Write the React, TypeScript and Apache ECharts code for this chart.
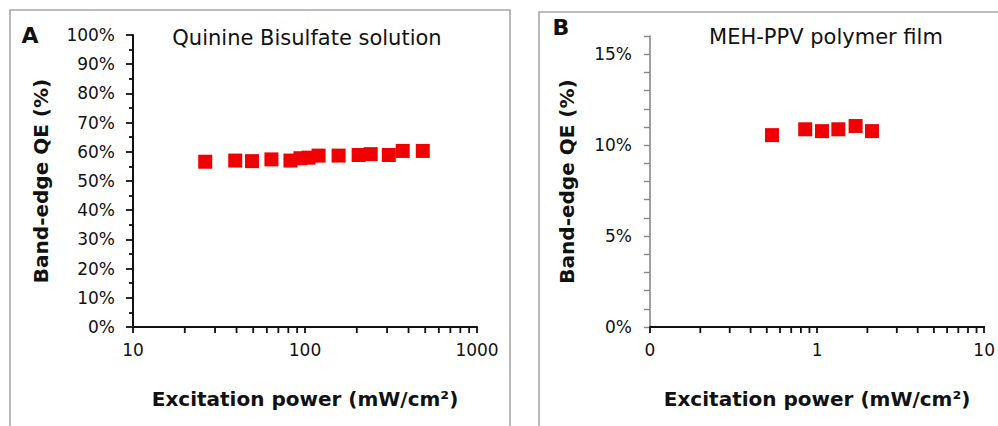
import React, { useEffect, useRef } from "react";
import * as echarts from "echarts";

// Panel A: Quinine Bisulfate solution
const powerA = [26.3, 39.3, 49.2, 63.8, 82.3, 94.1, 104.8, 119.9, 156.8, 205, 241, 307, 370, 484];
const qeA = [56.6, 57.0, 56.8, 57.4, 57.0, 57.8, 58.0, 58.7, 58.7, 58.9, 59.2, 58.9, 60.3, 60.3];
// Panel B: MEH-PPV polymer film
const powerB = [0.537, 0.849, 1.07, 1.34, 1.7, 2.13];
const qeB = [10.55, 10.87, 10.77, 10.87, 11.05, 10.77];

const minorTicksA = [20, 30, 40, 50, 60, 70, 80, 90, 200, 300, 400, 500, 600, 700, 800, 900];
const minorTicksB = [0.2, 0.3, 0.4, 0.5, 0.6, 0.7, 0.8, 0.9, 2, 3, 4, 5, 6, 7, 8, 9];
const xTickLabelsA = ["10", "100", "1000"];
const xTickLabelsB = ["0", "1", "10"];

const titleA = "Quinine Bisulfate solution";
const titleB = "MEH-PPV polymer film";
const xName = "Excitation power (mW/cm²)";
const yName = "Band-edge QE (%)";

const FONT = "'DejaVu Sans', 'Liberation Sans', Arial, sans-serif";

function minorTickSeries(values: number[], axisIndex: number) {
  return {
    type: "custom",
    xAxisIndex: axisIndex,
    yAxisIndex: axisIndex,
    silent: true,
    clip: false,
    z: 5,
    data: values.map((v) => [v, 0]),
    renderItem: (_params: any, api: any) => {
      const p = api.coord([api.value(0), api.value(1)]);
      return {
        type: "line",
        shape: { x1: p[0], y1: p[1], x2: p[0], y2: p[1] + 6 },
        style: { stroke: "#111", lineWidth: 1.8 },
      };
    },
  };
}

export default function App() {
  const ref = useRef<HTMLDivElement>(null);

  useEffect(() => {
    document.body.style.margin = "0";
    if (!ref.current) return;
    const chart = echarts.init(ref.current, undefined, { renderer: "svg" });

    const tickLabel = { color: "#111", fontSize: 17, fontFamily: FONT };
    const nameStyle = { color: "#111", fontSize: 20, fontWeight: "bold" as const, fontFamily: FONT };

    const option: any = {
      animation: false,
      backgroundColor: "#fff",
      graphic: [
        { type: "rect", shape: { x: 10, y: 10, width: 500, height: 440 }, style: { fill: "none", stroke: "#a8a8a8", lineWidth: 1.6 }, silent: true },
        { type: "rect", shape: { x: 539, y: 12, width: 480, height: 440 }, style: { fill: "none", stroke: "#a8a8a8", lineWidth: 1.6 }, silent: true },
        { type: "text", x: 30, y: 35, style: { text: "A", fontSize: 22, fontWeight: "bold", fontFamily: FONT, fill: "#111", align: "center", verticalAlign: "middle" } },
        { type: "text", x: 561, y: 27, style: { text: "B", fontSize: 22, fontWeight: "bold", fontFamily: FONT, fill: "#111", align: "center", verticalAlign: "middle" } },
        { type: "text", x: 307, y: 38, style: { text: titleA, fontSize: 21, fontFamily: FONT, fill: "#111", align: "center", verticalAlign: "middle" } },
        { type: "text", x: 826, y: 37, style: { text: titleB, fontSize: 21, fontFamily: FONT, fill: "#111", align: "center", verticalAlign: "middle" } },
      ],
      grid: [
        { left: 133, top: 35, width: 344, height: 292 },
        { left: 650, top: 36, width: 336, height: 291 },
      ],
      xAxis: [
        {
          gridIndex: 0,
          type: "log",
          logBase: 10,
          min: 10,
          max: 1000,
          name: xName,
          nameLocation: "middle",
          nameGap: 62,
          nameTextStyle: nameStyle,
          axisLine: { show: true, lineStyle: { color: "#111", width: 2 } },
          axisTick: { show: true, inside: false, length: 6, lineStyle: { color: "#111", width: 1.8 } },
          minorTick: { show: false },
          splitLine: { show: false },
          axisLabel: { ...tickLabel, margin: 14, formatter: (_v: number, i: number) => xTickLabelsA[i] ?? "" },
        },
        {
          gridIndex: 1,
          type: "log",
          logBase: 10,
          min: 0.1,
          max: 10,
          name: xName,
          nameLocation: "middle",
          nameGap: 62,
          nameTextStyle: nameStyle,
          axisLine: { show: true, lineStyle: { color: "#111", width: 2 } },
          axisTick: { show: true, inside: false, length: 6, lineStyle: { color: "#111", width: 1.8 } },
          minorTick: { show: false },
          splitLine: { show: false },
          axisLabel: { ...tickLabel, margin: 14, formatter: (_v: number, i: number) => xTickLabelsB[i] ?? "" },
        },
      ],
      yAxis: [
        {
          gridIndex: 0,
          type: "value",
          min: 0,
          max: 100,
          interval: 10,
          name: yName,
          nameLocation: "middle",
          nameGap: 82,
          nameTextStyle: nameStyle,
          axisLine: { show: true, lineStyle: { color: "#111", width: 2 } },
          axisTick: { show: true, length: 7, lineStyle: { color: "#111", width: 1.8 } },
          minorTick: { show: true, splitNumber: 2, length: 4, lineStyle: { color: "#111", width: 1.8 } },
          splitLine: { show: false },
          axisLabel: { ...tickLabel, margin: 18, formatter: "{value}%" },
        },
        {
          gridIndex: 1,
          type: "value",
          min: 0,
          max: 16,
          interval: 1,
          name: yName,
          nameLocation: "middle",
          nameGap: 73,
          nameTextStyle: nameStyle,
          axisLine: { show: true, lineStyle: { color: "#888", width: 1.6 } },
          axisTick: { show: true, length: 6, lineStyle: { color: "#888", width: 1.4 } },
          splitLine: { show: false },
          axisLabel: { ...tickLabel, margin: 18, formatter: (v: number) => (v % 5 === 0 ? v + "%" : "") },
        },
      ],
      series: [
        {
          type: "scatter",
          xAxisIndex: 0,
          yAxisIndex: 0,
          symbol: "rect",
          symbolSize: 14,
          itemStyle: { color: "#f00000", opacity: 1 },
          data: powerA.map((x, i) => [x, qeA[i]]),
          z: 10,
        },
        {
          type: "scatter",
          xAxisIndex: 1,
          yAxisIndex: 1,
          symbol: "rect",
          symbolSize: 14,
          itemStyle: { color: "#f00000", opacity: 1 },
          data: powerB.map((x, i) => [x, qeB[i]]),
          z: 10,
        },
        minorTickSeries(minorTicksA, 0),
        minorTickSeries(minorTicksB, 1),
      ],
    };

    chart.setOption(option);
    return () => chart.dispose();
  }, []);

  return <div ref={ref} style={{ width: 998, height: 426 }} />;
}
